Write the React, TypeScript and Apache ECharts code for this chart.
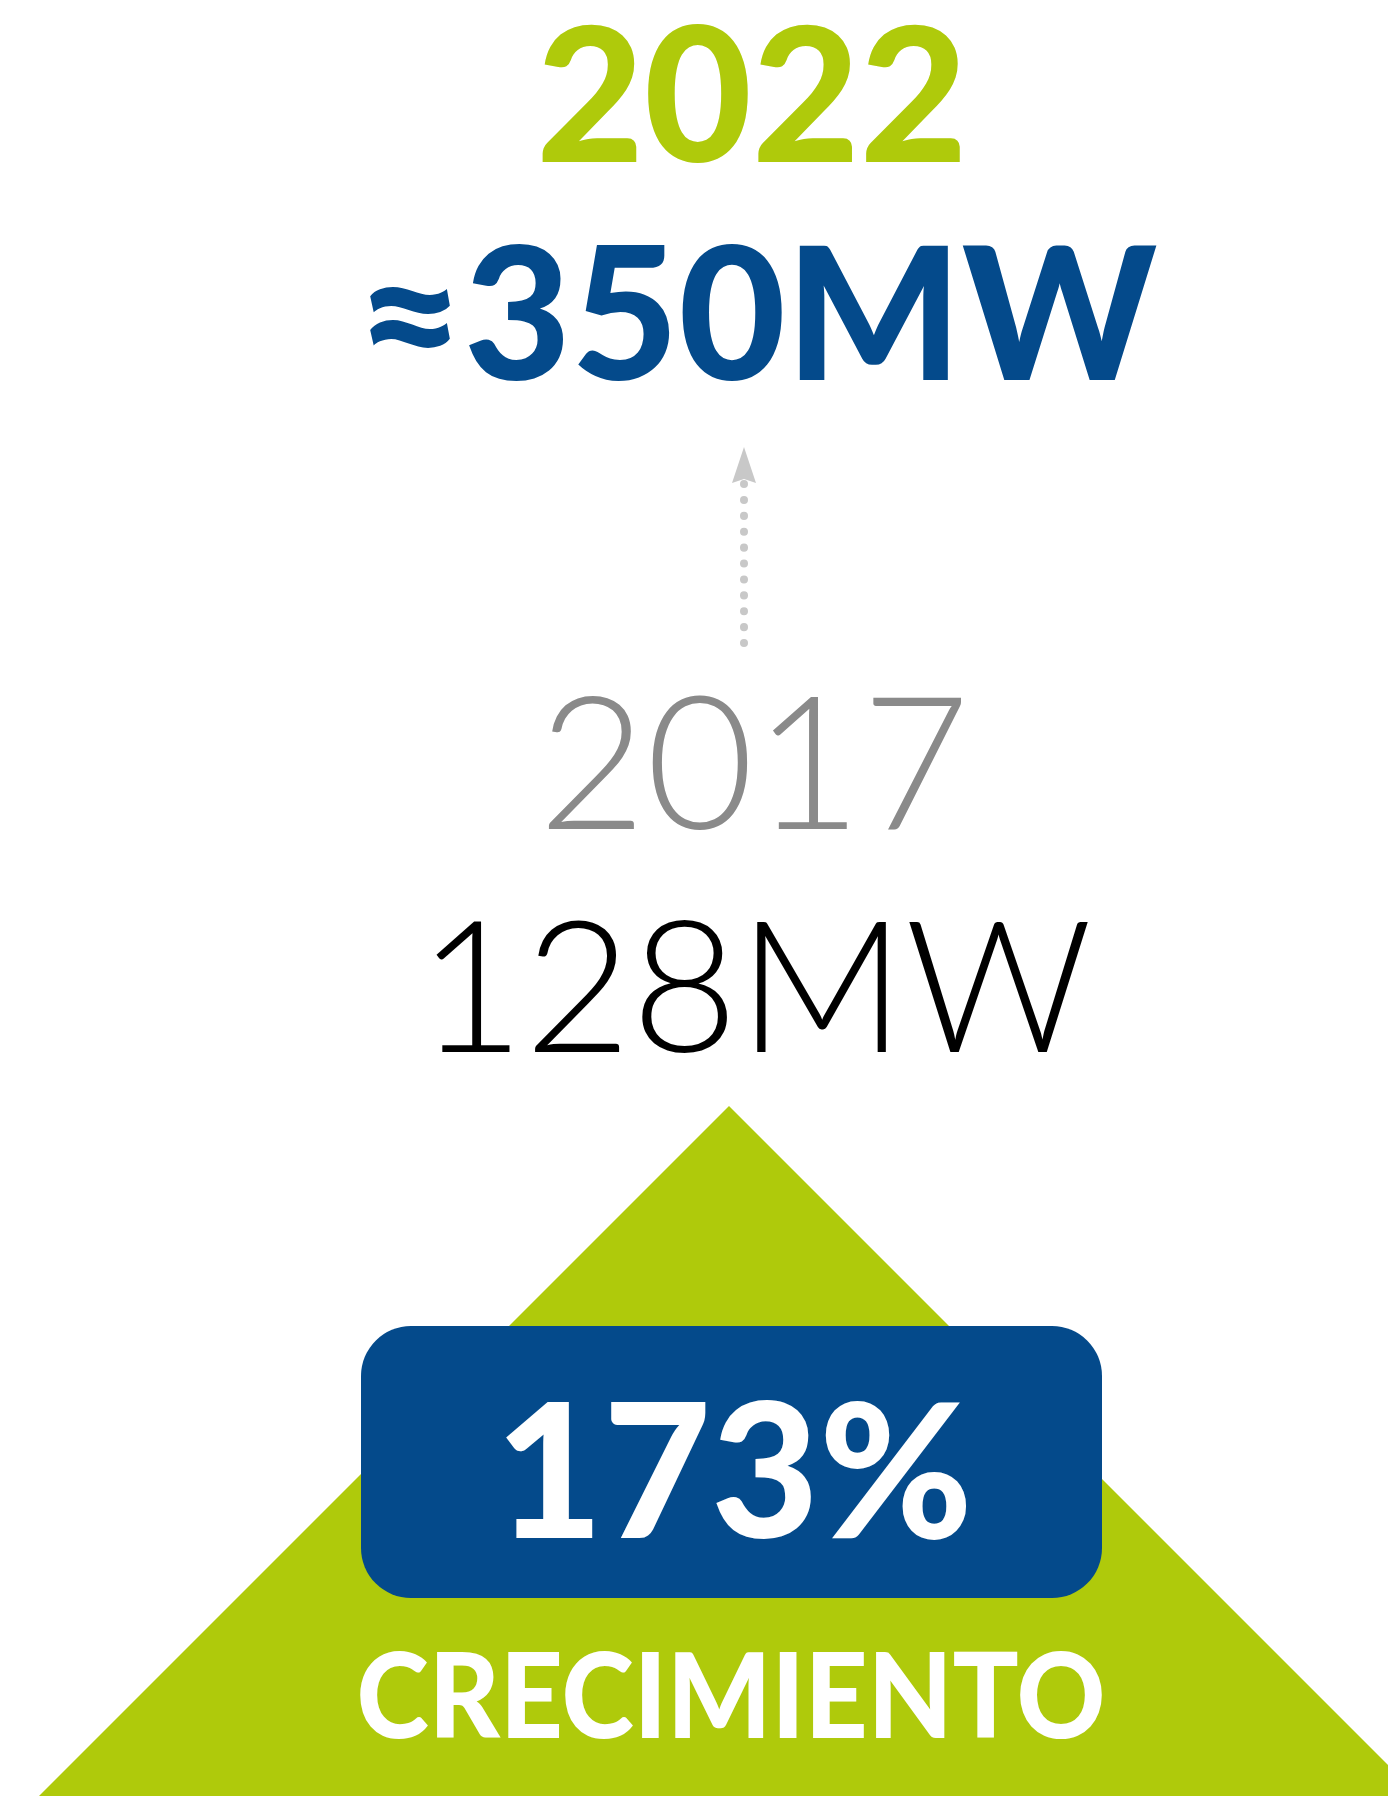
import React, { useEffect, useRef } from "react";
import * as echarts from "echarts";

const years = ["2022", "2017"];
const capacityMW = [350, 128];
const growthPct = [173];
const growthLabel = ["CRECIMIENTO"];

const GREEN = "#afca0b";
const BLUE = "#044a8b";

export default function App() {
  const ref = useRef<HTMLDivElement>(null);
  useEffect(() => {
    if (!ref.current) return;
    const chart = echarts.init(ref.current, undefined, { renderer: "svg" });
    const font = "Lato";
    const txt = (
      text: string,
      x: number,
      y: number,
      size: number,
      weight: any,
      fill: string,
      scaleX = 1
    ) => ({
      type: "text",
      x,
      y,
      scaleX,
      style: {
        text,
        fontFamily: font,
        fontSize: size,
        fontWeight: weight,
        lineHeight: Math.round(size * 0.8),
        fill,
        align: "center",
        verticalAlign: "middle",
      },
    });
    chart.setOption({
      animation: false,
      backgroundColor: "#ffffff",
      graphic: [
        {
          type: "polygon",
          shape: { points: [[729, 1106], [29, 1806], [1429, 1806]] },
          style: { fill: GREEN },
        },
        {
          type: "rect",
          shape: { x: 361, y: 1326, width: 741, height: 272, r: 50 },
          style: { fill: BLUE },
        },
        txt(years[0], 752, 90, 186, 900, GREEN),
        txt("≈" + capacityMW[0] + "MW", 757, 308, 185, 900, BLUE),
        {
          type: "line",
          shape: { x1: 744, y1: 484, x2: 744, y2: 646 },
          style: { stroke: "#c8c8c8", lineWidth: 8, lineCap: "round", lineDash: [0.1, 15.8] },
        },
        {
          type: "polygon",
          shape: { points: [[744, 447], [756, 483], [744, 479], [732, 483]] },
          style: { fill: "#c8c8c8" },
        },
        txt(years[1], 754, 757, 186, 300, "#8a8a8a"),
        txt(capacityMW[1] + "MW", 755, 980, 184, 300, "#000000"),
        txt(growthPct[0] + "%", 734, 1466, 186, 900, "#ffffff"),
        txt(growthLabel[0], 731, 1692, 118, 900, "#ffffff", 0.93),
      ],
    });
    return () => chart.dispose();
  }, []);
  return (
    <div
      ref={ref}
      style={{ position: "absolute", left: 0, top: 0, width: 1388, height: 1796 }}
    />
  );
}
